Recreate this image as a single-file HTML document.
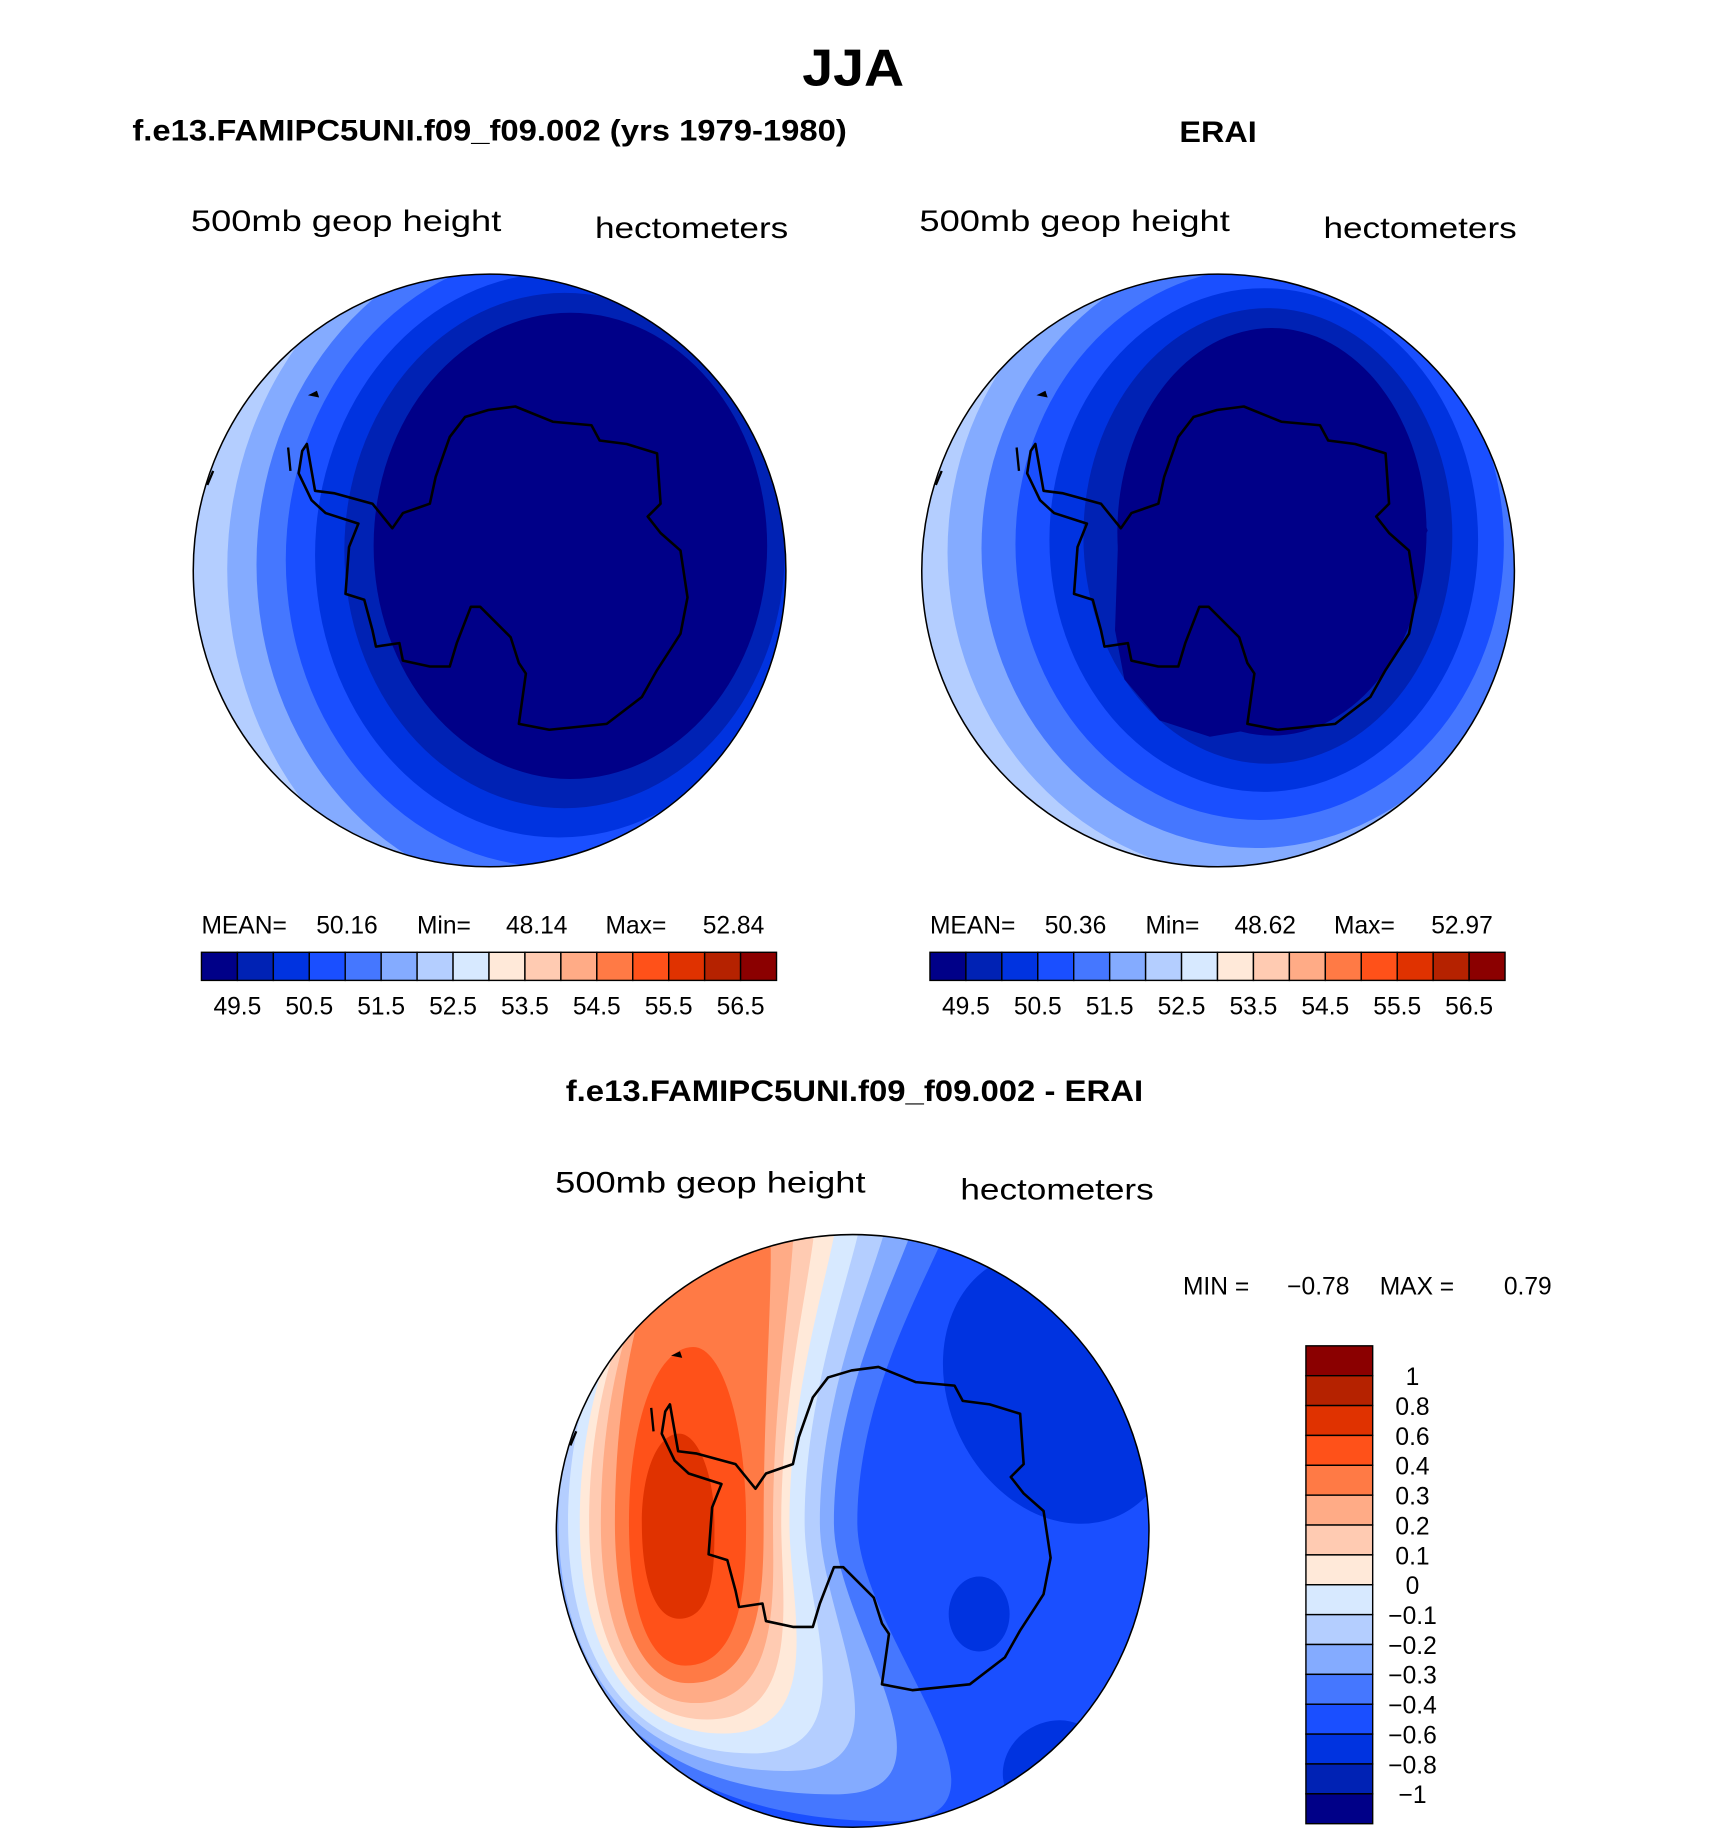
<!DOCTYPE html>
<html><head><meta charset="utf-8"><title>JJA 500mb geopotential height</title>
<style>
html,body{margin:0;padding:0;background:#fff;width:1710px;height:1839px;overflow:hidden;}
svg{display:block;}
text{font-family:"Liberation Sans",sans-serif;fill:#000;}
.ttl{font-weight:bold;}
.lab{font-size:25px;}
.st{font-size:21px;}
</style></head>
<body>
<svg id="fig" xmlns="http://www.w3.org/2000/svg" width="1710" height="1839" viewBox="0 0 1460 1570">
<rect width="1460" height="1570" fill="#fff"/>
<text class="ttl" x="685" y="73" font-size="44" textLength="87" lengthAdjust="spacingAndGlyphs">JJA</text>
<text class="ttl" x="113" y="120" font-size="25" textLength="610" lengthAdjust="spacingAndGlyphs">f.e13.FAMIPC5UNI.f09_f09.002 (yrs 1979-1980)</text>
<text class="ttl" x="1007" y="121" font-size="25" textLength="66" lengthAdjust="spacingAndGlyphs">ERAI</text>
<text class="ttl" x="483" y="940" font-size="25" textLength="493" lengthAdjust="spacingAndGlyphs">f.e13.FAMIPC5UNI.f09_f09.002 - ERAI</text>

<text class="lab" x="163" y="197" textLength="265" lengthAdjust="spacingAndGlyphs">500mb geop height</text>
<text class="lab" x="508" y="203" textLength="165" lengthAdjust="spacingAndGlyphs">hectometers</text>
<text class="lab" x="785" y="197" textLength="265" lengthAdjust="spacingAndGlyphs">500mb geop height</text>
<text class="lab" x="1130" y="203" textLength="165" lengthAdjust="spacingAndGlyphs">hectometers</text>
<text class="lab" x="474" y="1018" textLength="265" lengthAdjust="spacingAndGlyphs">500mb geop height</text>
<text class="lab" x="820" y="1024" textLength="165" lengthAdjust="spacingAndGlyphs">hectometers</text>

<g id="stats">
<text class="st" x="172" y="797">MEAN=</text>
<text class="st" x="270" y="797">50.16</text>
<text class="st" x="356" y="797">Min=</text>
<text class="st" x="432" y="797">48.14</text>
<text class="st" x="517" y="797">Max=</text>
<text class="st" x="600" y="797">52.84</text>
<text class="st" x="794" y="797">MEAN=</text>
<text class="st" x="892" y="797">50.36</text>
<text class="st" x="978" y="797">Min=</text>
<text class="st" x="1054" y="797">48.62</text>
<text class="st" x="1139" y="797">Max=</text>
<text class="st" x="1222" y="797">52.97</text>
<text class="st" x="1010" y="1105">MIN =</text>
<text class="st" x="1099" y="1105">−0.78</text>
<text class="st" x="1178" y="1105">MAX =</text>
<text class="st" x="1284" y="1105">0.79</text>
</g>
<g id="plots"></g>
</svg>
<script>
// ---- data ----
const palette = ['#000088','#0022b4','#0033e0','#1a4fff','#4577ff','#84abff','#b4ceff','#d7e9ff','#ffe9d9','#ffcbb2','#ffab86','#ff7a45','#ff5119','#e03200','#b52200','#8b0000'];
const absTickLabels = ['49.5','50.5','51.5','52.5','53.5','54.5','55.5','56.5'];
const diffTickLabels = ['1','0.8','0.6','0.4','0.3','0.2','0.1','0','−0.1','−0.2','−0.3','−0.4','−0.6','−0.8','−1'];
const modelLevels = [49,49.5,50,50.5,51,51.5,52];
const eraiLevels = [49.5,50,50.5,51,51.5,52];
const diffLevels = [-0.4,-0.3,-0.2,-0.1,0,0.1,0.2,0.3,0.4,0.6];
// contour crossings for each diff level
const diffLeftX   = [468,470,477,485,495,503,513,525,537,548];
const diffRightX  = [732,712,700,687,674,667,660,652,637,610];
const diffTopX    = [800,770,745,722,702,682,662,640,592,580];
const diffTopY    = [1000,1000,1000,1000,1000,1000,1000,1000,1150,1224];
const diffBottomX = [760,712,672,642,618,604,594,588,585,580];
const diffBottomY = [1555,1532,1512,1497,1480,1468,1454,1437,1422,1382];
const absBounds = [49,49.5,50,50.5,51,51.5,52,52.5,53,53.5,54,54.5,55,55.5,56,56.5,57];
const diffBounds = [-1.2,-1,-0.8,-0.6,-0.4,-0.3,-0.2,-0.1,0,0.1,0.2,0.3,0.4,0.6,0.8,1,1.2];

const NS='http://www.w3.org/2000/svg';
const plots=document.getElementById('plots');
function mk(tag,attrs,parent){const e=document.createElementNS(NS,tag);for(const k in attrs)e.setAttribute(k,attrs[k]);(parent||plots).appendChild(e);return e;}
function colorFor(v,bounds){let i=0;while(i<bounds.length-1&&v>=bounds[i])i++;return palette[Math.max(0,Math.min(15,i-1))];}
function absIndex(v){return (v-49)/0.5;}

const R=253;
const coast=[[262,379],[269,419],[285,421],[318,430],[335,451],[344,438],[367,430],[372,407],[384,373],[397,356],[417,350],[440,347],[472,360],[505,363],[512,376],[535,379],[561,387],[564,430],[553,441],[564,455],[581,470],[587,510],[581,541],[574,552],[561,572],[548,595],[518,618],[469,623],[443,618],[449,575],[443,566],[436,544],[410,518],[402,518],[390,549],[384,569],[367,569],[344,564],[341,549],[321,552],[318,538],[311,512],[295,507],[298,467],[306,447],[278,438],[266,427],[255,404],[258,385]];

function panel(id,cx,cy){
  const g=mk('g',{});
  
  
  const cp=mk('clipPath',{id:id+'-clip'},g);
  mk('circle',{cx:cx,cy:cy,r:R},cp);
  const inner=mk('g',{'clip-path':'url(#'+id+'-clip)'},g);
  return {g,inner};
}
function drawCoast(g,cx,cy){
  const d='M'+coast.map(p=>(p[0]-418+cx)+','+(p[1]-487+cy)).join(' L')+' Z';
  const p=mk('path',{d:d,fill:'none',stroke:'#000','stroke-width':2.2,'stroke-linejoin':'round'},g);
  
  
  const isl=mk('path',{d:`M${cx-152},${cy-150} l4,-2 l1,3 z M${cx-172},${cy-105} l2,20 M${cx-236},${cy-85} l-5,12`,fill:'#000',stroke:'#000','stroke-width':2},g);
  
  
}
function border(g,cx,cy){
  const c=mk('circle',{cx:cx,cy:cy,r:R,fill:'none',stroke:'#000','stroke-width':1.3},g);
  
  
}

// ---- model panel ----
(function(){
  const cx=418,cy=487,P=panel('model',cx,cy);
  mk('circle',{cx:cx,cy:cy,r:R,fill:colorFor(modelLevels[modelLevels.length-1]+0.25,absBounds)},P.inner);
  for(let j=modelLevels.length-1;j>=0;j--){
    const k=absIndex(modelLevels[j]);
    const e=mk('ellipse',{cx:cx+74-5*k,cy:cy-25+4*k,rx:148+20*k,ry:178+21*k,fill:colorFor(modelLevels[j]-0.25,absBounds)},P.inner);
    
    
  }
  drawCoast(P.g,cx,cy);border(P.g,cx,cy);
})();

// ---- ERAI panel ----
(function(){
  const cx=1040,cy=487,P=panel('erai',cx,cy);
  mk('circle',{cx:cx,cy:cy,r:R,fill:colorFor(eraiLevels[eraiLevels.length-1]+0.25,absBounds)},P.inner);
  for(let j=eraiLevels.length-1;j>=0;j--){
    const k=absIndex(eraiLevels[j])-1;
    const e=mk('ellipse',{cx:cx+46-3.5*k,cy:cy-33+3.5*k,rx:132+25.5*k,ry:174+20.5*k,fill:colorFor(eraiLevels[j]-0.25,absBounds)},P.inner);
    
    
  }
  const core=[[1050,306],[1119,316],[1153,347],[1181,390],[1210,430],[1219,453],[1204,481],[1133,464],[1110,436],[1100,414],[1090,425],[1088,458],[1095,490],[1113,510],[1118,560],[1116,595],[1085,620],[1033,629],[990,615],[960,580],[952,538],[955,450],[975,380],[1005,330]];
  const n=mk('path',{d:'M'+core.map(p=>p.join(',')).join(' L')+' Z',fill:colorFor(eraiLevels[0]-0.75,absBounds),'stroke-linejoin':'round'},P.inner);
  
  
  drawCoast(P.g,cx,cy);border(P.g,cx,cy);
})();

// ---- difference panel ----
(function(){
  const cx=728,cy=1307,P=panel('diff',cx,cy);
  mk('circle',{cx:cx,cy:cy,r:R,fill:colorFor(-0.5,diffBounds)},P.inner);
  const neg=mk('g',{},P.inner);
  [[905,1185,95,120,-25],[836,1378,26,32,0],[900,1510,45,40,-30]].forEach(b=>{
    const e=mk('ellipse',{cx:b[0],cy:b[1],rx:b[2],ry:b[3],transform:`rotate(${b[4]} ${b[0]} ${b[1]})`,fill:colorFor(-0.7,diffBounds)},neg);
    
    
  });
  const ym=1300;
  for(let j=0;j<diffLevels.length;j++){
    const v=diffLevels[j];
    const L=diffLeftX[j],Rm=diffRightX[j],Tx=diffTopX[j],T=diffTopY[j],Bx=diffBottomX[j],B=diffBottomY[j];
    const hu=(ym-T)*0.55, hd=(B-ym)*0.55;
    const d=`M${L},${ym} C${L},${ym-hu} ${Tx-(Tx-L)*0.6},${T} ${Tx},${T} `+
            `C${Tx+(Rm-L)*0.25},${T} ${Rm},${ym-hu} ${Rm},${ym} `+
            `C${Rm},${ym+hd*0.7} ${Bx+(Rm-L)*0.5},${B} ${Bx},${B} `+
            `C${Bx-(Bx-L)*0.7},${B} ${L},${ym+hd} ${L},${ym} Z`;
    const e=mk('path',{d:d,fill:colorFor(v+0.01,diffBounds)},P.inner);
    
    
  }
  drawCoast(P.g,cx,cy);border(P.g,cx,cy);
})();

// ---- horizontal colorbars ----
function hbar(x0,name){
  const g=mk('g',{});
  
  
  const w=(663-172)/16;
  palette.forEach((c,i)=>{
    const r=mk('rect',{x:x0+i*w,y:813,width:w,height:24,fill:c,stroke:'#000','stroke-width':1.2},g);
    
    
  });
  absTickLabels.forEach((t,i)=>{
    const tx=mk('text',{x:x0+(2*i+1)*w,y:866,'text-anchor':'middle','font-size':21},g);
    tx.textContent=t;
    
    
  });
}
hbar(172,'model-colorbar');hbar(794,'erai-colorbar');

// ---- vertical colorbar ----
(function(){
  const g=mk('g',{});
  
  
  const h=(1557-1149)/16;
  palette.slice().reverse().forEach((c,i)=>{
    const r=mk('rect',{x:1115,y:1149+i*h,width:57,height:h,fill:c,stroke:'#000','stroke-width':1.2},g);
    
    
  });
  diffTickLabels.forEach((t,i)=>{
    const tx=mk('text',{x:1206,y:1149+(i+1)*h+8,'text-anchor':'middle','font-size':21},g);
    tx.textContent=t;
    
    
  });
})();
</script>
</body></html>
